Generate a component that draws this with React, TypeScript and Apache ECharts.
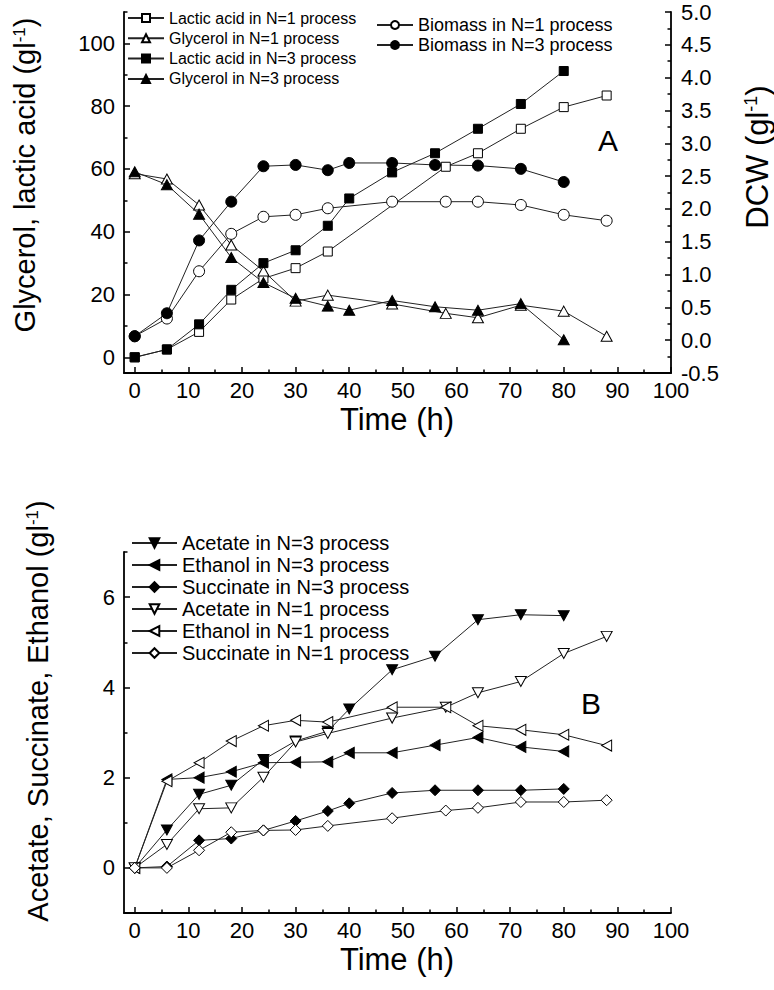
import React, { useEffect, useRef } from "react";
import * as echarts from "echarts";

const FONT = '"Liberation Sans", Arial, Helvetica, sans-serif';

// Sampling times (h)
const tN1 = [0, 6, 12, 18, 24, 30, 36, 48, 58, 64, 72, 80, 88];
const tN3 = [0, 6, 12, 18, 24, 30, 36, 40, 48, 56, 64, 72, 80];
const tLacticN1 = [0, 6, 12, 18, 24, 30, 36, 58, 64, 72, 80, 88];

// Panel A (g/l)
const lacticN1 = [0, 2.5, 8.1, 18.4, 25.1, 28.4, 33.7, 60.7, 65.0, 72.8, 79.7, 83.4];
const glycerolN1 = [58.5, 56.8, 48.5, 35.8, 27.5, 17.9, 19.8, 17.0, 14.0, 12.6, 16.6, 14.7, 6.7];
const lacticN3 = [0, 2.5, 10.5, 21.5, 30.0, 34.1, 41.9, 50.6, 58.9, 65.0, 72.8, 80.7, 91.2];
const glycerolN3 = [59.1, 55.0, 45.6, 31.8, 23.8, 18.8, 16.3, 15.0, 18.1, 16.1, 15.0, 17.1, 5.6];
// DCW (g/l)
const biomassN1 = [0.06, 0.33, 1.05, 1.62, 1.88, 1.91, 2.01, 2.11, 2.11, 2.11, 2.06, 1.91, 1.82];
const biomassN3 = [0.06, 0.41, 1.52, 2.11, 2.65, 2.67, 2.59, 2.70, 2.70, 2.67, 2.66, 2.61, 2.41];

// Panel B (g/l)
const acetateN3 = [0, 0.84, 1.63, 1.83, 2.40, 2.81, 3.03, 3.52, 4.39, 4.69, 5.50, 5.61, 5.59];
const ethanolN3 = [0, 1.96, 2.0, 2.13, 2.33, 2.34, 2.35, 2.55, 2.55, 2.72, 2.89, 2.68, 2.58];
const succinateN3 = [0, 0.03, 0.61, 0.65, 0.83, 1.04, 1.26, 1.43, 1.66, 1.72, 1.72, 1.72, 1.75];
const acetateN1 = [0, 0.52, 1.31, 1.33, 2.01, 2.79, 2.98, 3.32, 3.56, 3.88, 4.13, 4.75, 5.13];
const ethanolN1 = [0, 1.92, 2.33, 2.81, 3.15, 3.27, 3.23, 3.56, 3.56, 3.15, 3.06, 2.95, 2.71];
const succinateN1 = [0, 0.0, 0.39, 0.79, 0.83, 0.84, 0.93, 1.10, 1.27, 1.33, 1.46, 1.46, 1.50];

// Tick labels / positions
const xMajor = [0, 10, 20, 30, 40, 50, 60, 70, 80, 90, 100];
const xMinor = [5, 15, 25, 35, 45, 55, 65, 75, 85, 95];
const yAMajor = [0, 20, 40, 60, 80, 100];
const yAMinor = [10, 30, 50, 70, 90, 110];
const yBMajor = [0, 2, 4, 6];
const yBMinor = [1, 3, 5, 7];

const legendA1 = [
  "Lactic acid in N=1 process",
  "Glycerol in N=1 process",
  "Lactic acid in N=3 process",
  "Glycerol in N=3 process",
];
const legendA2 = ["Biomass in N=1 process", "Biomass in N=3 process"];
const legendB = [
  "Acetate in N=3 process",
  "Ethanol in N=3 process",
  "Succinate in N=3 process",
  "Acetate in N=1 process",
  "Ethanol in N=1 process",
  "Succinate in N=1 process",
];

const DOWN_TRI = "path://M0,0L10,0L5,10Z";
const LEFT_TRI = "path://M10,0L10,10L0,5Z";

function mk(
  name: string,
  times: number[],
  vals: number[],
  symbol: string,
  size: number | number[],
  filled: boolean,
  xi: number,
  yi: number
) {
  return {
    type: "line",
    name,
    data: times.map((t, i) => [t, vals[i]]),
    symbol,
    symbolSize: size,
    showSymbol: true,
    xAxisIndex: xi,
    yAxisIndex: yi,
    lineStyle: { color: "#222", width: 1 },
    itemStyle: { color: filled ? "#000" : "#fff", borderColor: "#000", borderWidth: 1 },
    emphasis: { disabled: true },
    silent: true,
  };
}

const axisLineStyle = { color: "#000", width: 1.8 };

function xAxes(grid: number) {
  return [
    {
      type: "value",
      gridIndex: grid,
      position: "bottom",
      min: -2,
      max: 100,
      axisLine: { show: true, onZero: false, lineStyle: axisLineStyle },
      axisTick: { show: true, inside: true, length: 6, customValues: xMajor, lineStyle: { color: "#000", width: 1.5 } },
      axisLabel: { show: true, customValues: xMajor, margin: 6, color: "#000", fontSize: 22, fontFamily: FONT },
      splitLine: { show: false },
    },
    {
      type: "value",
      gridIndex: grid,
      position: "bottom",
      min: -2,
      max: 100,
      axisLine: { show: false, onZero: false },
      axisTick: { show: true, inside: true, length: 3.5, customValues: xMinor, lineStyle: { color: "#000", width: 1.5 } },
      axisLabel: { show: false },
      splitLine: { show: false },
    },
  ];
}

export default function App() {
  const ref = useRef<HTMLDivElement>(null);
  useEffect(() => {
    if (!ref.current) return;
    const chart = echarts.init(ref.current, null, { renderer: "svg" });
    const titleStyle = (text: string, size = 29) => ({
      text,
      fontSize: size,
      fontFamily: FONT,
      fill: "#000",
      align: "center",
      verticalAlign: "middle",
      rich: { s: { fontSize: Math.round(size * 0.58), fontFamily: FONT, verticalAlign: "top", fill: "#000" } },
    });
    const option: any = {
      animation: false,
      backgroundColor: "#fff",
      grid: [
        { left: 124, top: 12, width: 547, height: 361 },
        { left: 124, top: 552, width: 547, height: 361 },
      ],
      xAxis: [...xAxes(0), ...xAxes(1)],
      yAxis: [
        {
          type: "value",
          gridIndex: 0,
          position: "left",
          min: -5,
          max: 110,
          axisLine: { show: true, onZero: false, lineStyle: axisLineStyle },
          axisTick: { show: true, inside: true, length: 6, customValues: yAMajor, lineStyle: { color: "#000", width: 1.5 } },
          axisLabel: { show: true, customValues: yAMajor, margin: 9, color: "#000", fontSize: 22, fontFamily: FONT },
          splitLine: { show: false },
        },
        {
          type: "value",
          gridIndex: 0,
          position: "left",
          min: -5,
          max: 110,
          axisLine: { show: false, onZero: false },
          axisTick: { show: true, inside: true, length: 3.5, customValues: yAMinor, lineStyle: { color: "#000", width: 1.5 } },
          axisLabel: { show: false },
          splitLine: { show: false },
        },
        {
          type: "value",
          gridIndex: 0,
          position: "right",
          min: -0.5,
          max: 5.0,
          interval: 0.5,
          axisLine: { show: true, onZero: false, lineStyle: axisLineStyle },
          axisTick: { show: true, inside: true, length: 6, lineStyle: { color: "#000", width: 1.5 } },
          minorTick: { show: true, splitNumber: 2, length: 3.5, lineStyle: { color: "#000", width: 1.5 } },
          axisLabel: {
            show: true,
            margin: 10,
            color: "#000",
            fontSize: 22,
            fontFamily: FONT,
            formatter: (v: number) => v.toFixed(1),
          },
          splitLine: { show: false },
          minorSplitLine: { show: false },
        },
        {
          type: "value",
          gridIndex: 1,
          position: "left",
          min: -1,
          max: 7,
          axisLine: { show: true, onZero: false, lineStyle: axisLineStyle },
          axisTick: { show: true, inside: true, length: 6, customValues: yBMajor, lineStyle: { color: "#000", width: 1.5 } },
          axisLabel: { show: true, customValues: yBMajor, margin: 9, color: "#000", fontSize: 22, fontFamily: FONT },
          splitLine: { show: false },
        },
        {
          type: "value",
          gridIndex: 1,
          position: "left",
          min: -1,
          max: 7,
          axisLine: { show: false, onZero: false },
          axisTick: { show: true, inside: true, length: 3.5, customValues: yBMinor, lineStyle: { color: "#000", width: 1.5 } },
          axisLabel: { show: false },
          splitLine: { show: false },
        },
      ],
      legend: [
        {
          data: legendA1,
          orient: "vertical",
          left: 127,
          top: 10,
          padding: 0,
          itemWidth: 36,
          itemHeight: 10,
          itemGap: 4.3,
          selectedMode: false,
          textStyle: { fontSize: 16, color: "#000", fontFamily: FONT },
        },
        {
          data: legendA2,
          orient: "vertical",
          left: 376,
          top: 16,
          padding: 0,
          itemWidth: 36,
          itemHeight: 10,
          itemGap: 2,
          selectedMode: false,
          textStyle: { fontSize: 18, color: "#000", fontFamily: FONT },
        },
        {
          data: legendB,
          orient: "vertical",
          left: 131,
          top: 533,
          padding: 0,
          itemWidth: 45,
          itemHeight: 12,
          itemGap: 2,
          selectedMode: false,
          textStyle: { fontSize: 20, color: "#000", fontFamily: FONT },
        },
      ],
      series: [
        mk(legendA1[0], tLacticN1, lacticN1, "rect", 9, false, 0, 0),
        mk(legendA1[1], tN1, glycerolN1, "triangle", [11, 10], false, 0, 0),
        mk(legendA1[2], tN3, lacticN3, "rect", 9, true, 0, 0),
        mk(legendA1[3], tN3, glycerolN3, "triangle", [11, 10], true, 0, 0),
        mk(legendA2[0], tN1, biomassN1, "circle", 11, false, 0, 2),
        mk(legendA2[1], tN3, biomassN3, "circle", 11, true, 0, 2),
        mk(legendB[0], tN3, acetateN3, DOWN_TRI, [11, 10], true, 2, 3),
        mk(legendB[1], tN3, ethanolN3, LEFT_TRI, [10, 11], true, 2, 3),
        mk(legendB[2], tN3, succinateN3, "diamond", 11, true, 2, 3),
        mk(legendB[3], tN1, acetateN1, DOWN_TRI, [11, 10], false, 2, 3),
        mk(legendB[4], tN1, ethanolN1, LEFT_TRI, [10, 11], false, 2, 3),
        mk(legendB[5], tN1, succinateN1, "diamond", 11, false, 2, 3),
      ],
      graphic: [
        { type: "text", x: 25, y: 175, rotation: Math.PI / 2, style: titleStyle("Glycerol, lactic acid (gl{s|-1})") },
        { type: "text", x: 757, y: 157, rotation: Math.PI / 2, style: titleStyle("DCW (gl{s|-1})", 31) },
        { type: "text", x: 397, y: 419, style: titleStyle("Time (h)", 31) },
        { type: "text", x: 38, y: 711, rotation: Math.PI / 2, style: titleStyle("Acetate, Succinate, Ethanol (gl{s|-1})") },
        { type: "text", x: 397, y: 959, style: titleStyle("Time (h)", 31) },
        { type: "text", x: 608, y: 140, style: { text: "A", fontSize: 30, fontFamily: FONT, fill: "#000", align: "center", verticalAlign: "middle" } },
        { type: "text", x: 591, y: 703, style: { text: "B", fontSize: 30, fontFamily: FONT, fill: "#000", align: "center", verticalAlign: "middle" } },
      ],
    };
    chart.setOption(option);
    return () => chart.dispose();
  }, []);
  return (
    <div
      ref={ref}
      style={{ position: "fixed", left: 0, top: 0, width: 774, height: 990, background: "#fff" }}
    />
  );
}
